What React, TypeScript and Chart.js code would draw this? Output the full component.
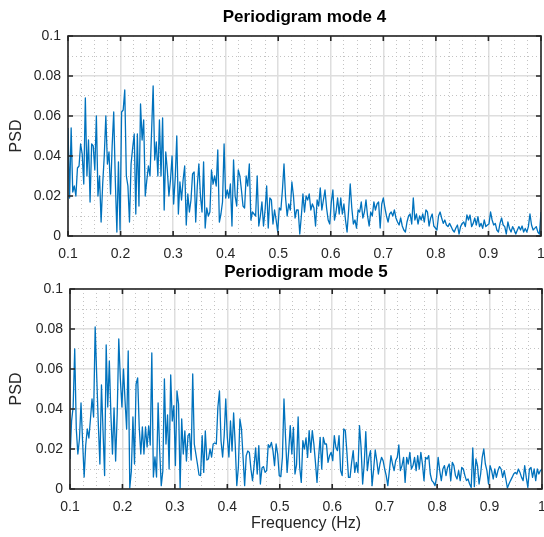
import { useEffect, useRef } from 'react';
import { Chart, registerables } from 'chart.js';

Chart.register(...registerables);

// ---------- data ----------
const FREQ_MIN = 0.1;
const FREQ_MAX = 1.0;

const X_TICK_VALUES = [0.1, 0.2, 0.3, 0.4, 0.5, 0.6, 0.7, 0.8, 0.9, 1.0];
const X_TICK_LABELS = ['0.1', '0.2', '0.3', '0.4', '0.5', '0.6', '0.7', '0.8', '0.9', '1'];
const Y_TICK_VALUES = [0, 0.02, 0.04, 0.06, 0.08, 0.1];
const Y_TICK_LABELS = ['0', '0.02', '0.04', '0.06', '0.08', '0.1'];

const TITLE_4 = 'Periodigram mode 4';
const TITLE_5 = 'Periodigram mode 5';
const Y_LABEL = 'PSD';
const X_LABEL = 'Frequency (Hz)';

const PSD_MODE4 = [
  0.054, 0.019, 0.054, 0.022, 0.025, 0.020, 0.034, 0.035, 0.046, 0.041,
  0.026, 0.069, 0.030, 0.048, 0.017, 0.046, 0.045, 0.033, 0.060, 0.020,
  0.030, 0.007, 0.026, 0.040, 0.060, 0.036, 0.042, 0.021, 0.045, 0.062,
  0.028, 0.002, 0.037, 0.003, 0.062, 0.063, 0.073, 0.030, 0.025, 0.007,
  0.036, 0.044, 0.051, 0.011, 0.051, 0.015, 0.066, 0.048, 0.058, 0.020,
  0.028, 0.035, 0.030, 0.052, 0.075, 0.038, 0.047, 0.030, 0.058, 0.030,
  0.059, 0.013, 0.042, 0.033, 0.020, 0.028, 0.040, 0.016, 0.029, 0.050,
  0.011, 0.027, 0.018, 0.028, 0.035, 0.0055, 0.021, 0.012, 0.018, 0.031,
  0.032, 0.007, 0.025, 0.036,
  0.020, 0.012, 0.037, 0.004, 0.014, 0.010, 0.012, 0.033, 0.026, 0.030,
  0.025, 0.043, 0.007, 0.011, 0.017, 0.046, 0.019, 0.023, 0.019, 0.026,
  0.005, 0.038, 0.020, 0.015, 0.033, 0.030, 0.023, 0.015, 0.014, 0.030,
  0.025, 0.036, 0.008, 0.012, 0.011, 0.010, 0.030, 0.005, 0.010, 0.017,
  0.005, 0.013, 0.025, 0.004, 0.019, 0.018, 0.006, 0.013, 0.008, 0.002,
  0.014, 0.013, 0.023, 0.036, 0.019, 0.010, 0.016, 0.013, 0.027, 0.020,
  0.009, 0.013, 0.013, 0.001, 0.010, 0.021, 0.012, 0.020, 0.018, 0.021,
  0.013, 0.016, 0.014, 0.005, 0.018, 0.015, 0.024, 0.013, 0.018, 0.023,
  0.014, 0.008, 0.006, 0.017, 0.023, 0.008, 0.012, 0.019, 0.011, 0.019,
  0.011, 0.016, 0.008, 0.002, 0.013, 0.026, 0.014, 0.006, 0.008, 0.004, 0.013,
  0.012, 0.017, 0.009, 0.012, 0.018, 0.010, 0.005, 0.012, 0.010, 0.017, 0.013,
  0.016, 0.017, 0.004, 0.016, 0.019, 0.014, 0.010, 0.007, 0.011, 0.012, 0.010,
  0.013, 0.009, 0.007, 0.0055, 0.009, 0.005, 0.003, 0.002, 0.007, 0.010, 0.011,
  0.006, 0.019, 0.008, 0.011, 0.006, 0.010, 0.008, 0.011, 0.007, 0.013,
  0.012, 0.005, 0.009, 0.011, 0.005, 0.004, 0.003, 0.010,
  0.012, 0.009, 0.0063, 0.008, 0.0055, 0.0047, 0.0063, 0.0047, 0.003, 0.002, 0.004,
  0.0055, 0.001, 0.0047, 0.0063, 0.007, 0.0047, 0.0105, 0.008, 0.0105, 0.0047,
  0.0063, 0.009, 0.0055, 0.0097, 0.0047, 0.0063, 0.0038, 0.008, 0.0047, 0.0055, 0.006,
  0.012, 0.008, 0.0055, 0.0063, 0.003, 0.002, 0.0063, 0.009, 0.0055, 0.0047,
  0.001, 0.007, 0.0038, 0.002, 0.0047, 0.003, 0.001, 0.003, 0.0047, 0.003, 0.005,
  0.002, 0.0038, 0.002, 0.0047, 0.011, 0.0055, 0.003, 0.0038, 0.0047, 0.002,
  0.001, 0.012,
];

const PSD_MODE5 = [
  0.015, 0.034, 0.041, 0.070, 0.030, 0.0175, 0.025, 0.043, 0.024, 0.006,
  0.022, 0.030, 0.0255, 0.035, 0.045, 0.036, 0.081, 0.056, 0.0325, 0.0125,
  0.052, 0.029, 0.0067, 0.072, 0.041, 0.064, 0.037, 0.0175, 0.0405, 0.014,
  0.0375, 0.075, 0.055, 0.041, 0.060, 0.044, 0.030, 0.069, 0.0005, 0.009,
  0.036, 0.0125, 0.0525, 0.0555, 0.031, 0.0175, 0.031, 0.0175, 0.031, 0.021,
  0.0315, 0.022, 0.068, 0.006, 0.016, 0.006, 0.043, 0.019, 0.0017, 0.009,
  0.055, 0.0225, 0.037, 0.010, 0.057, 0.034, 0.0417, 0.0117, 0.049, 0.0425,
  0.0005, 0.035, 0.0175, 0.029, 0.014, 0.0267, 0.0277, 0.0145, 0.0575, 0.0225,
  0.0175, 0.0125, 0.007, 0.0067, 0.0267, 0.0083, 0.029, 0.0145, 0.015, 0.020,
  0.016, 0.0225, 0.023, 0.0225, 0.041,
  0.049, 0.024, 0.016, 0.0267, 0.045, 0.0258, 0.016, 0.034, 0.019, 0.038,
  0.0225, 0.0017, 0.0108, 0.035, 0.030, 0.0158, 0.0017, 0.0167, 0.019, 0.0183,
  0.010, 0.0042, 0.0117, 0.0205, 0.0075, 0.0217, 0.0025, 0.0105, 0.0112, 0.0083,
  0.0092, 0.0222, 0.0208, 0.0233, 0.0192, 0.0117, 0.0225, 0.0175, 0.0067, 0.0062,
  0.0158, 0.045, 0.0258, 0.0083, 0.0192, 0.0317, 0.0175, 0.0308, 0.0075, 0.0122,
  0.036, 0.0108, 0.0033, 0.0242, 0.020, 0.0255, 0.0158, 0.0292, 0.0183, 0.0292,
  0.0225, 0.0133, 0.0033, 0.0158, 0.0258, 0.010, 0.0258, 0.0225, 0.0225, 0.0133,
  0.0167, 0.0183, 0.0142, 0.0267, 0.0208, 0.0192, 0.0267, 0.0092, 0.0067, 0.030,
  0.0292, 0.0183, 0.0058, 0.0058, 0.0133, 0.0192, 0.0083, 0.0133,
  0.0083, 0.0317, 0.0208, 0.0025, 0.0125, 0.0287, 0.0092, 0.0158, 0.0192, 0.0017,
  0.010, 0.0195, 0.0142, 0.0075, 0.0125, 0.0158, 0.0142, 0.010, 0.0067, 0.0017,
  0.0092, 0.0167, 0.0125, 0.0092, 0.0142, 0.0158, 0.022, 0.0092, 0.0117, 0.0158,
  0.0033, 0.0158, 0.0125, 0.0183, 0.010, 0.0117, 0.0158, 0.0092, 0.0167, 0.010,
  0.0183, 0.0125, 0.0042, 0.0158, 0.015, 0.0167, 0.0075, 0.0042, 0.0033, 0.0017,
  0.0058, 0.0158, 0.0092, 0.0042, 0.010, 0.0117, 0.0067, 0.0108, 0.0125, 0.0042,
  0.0133, 0.0117, 0.0067, 0.005, 0.0092, 0.0042, 0.0108, 0.010, 0.0067, 0.0042,
  0.005, 0.0025, 0.0008, 0.0205, 0.0012, 0.015, 0.0117, 0.0025, 0.0075, 0.0158,
  0.020, 0.0125, 0.0092, 0.0025, 0.0117, 0.0092, 0.005, 0.010, 0.0058, 0.0092,
  0.0112, 0.010, 0.0058, 0.0092, 0.005, 0.0005, 0.0025, 0.0042, 0.0058, 0.0075,
  0.0083, 0.0075, 0.010, 0.0083, 0.0058, 0.0042, 0.0117, 0.0058, 0.0008, 0.010,
  0.0108, 0.0058, 0.010, 0.0042, 0.010, 0.0075, 0.0092, 0.010,
];

// ---------- styling ----------
const FONT = 'Liberation Sans, Arial, Helvetica, sans-serif';
const AXIS_COLOR = '#262626';
const LINE_COLOR = '#0072BD';
const MAJOR_GRID = 'rgb(222,222,222)';
const MINOR_GRID = 'rgb(195,195,195)';
const CANVAS_W = 560;

// grid positions: majors plus minors (x: quarters, y: halves)
const X_GRID = X_TICK_VALUES.flatMap((v, i) => {
  if (i === X_TICK_VALUES.length - 1) return [v];
  const d = X_TICK_VALUES[i + 1] - v;
  return [v, v + d / 4, v + d / 2, v + (3 * d) / 4];
});
const Y_GRID = Y_TICK_VALUES.flatMap((v, i) => {
  if (i === Y_TICK_VALUES.length - 1) return [v];
  const d = Y_TICK_VALUES[i + 1] - v;
  return [v, v + d / 2];
});

function toPoints(values: number[]) {
  const n = values.length;
  return values.map((y, i) => ({ x: FREQ_MIN + ((FREQ_MAX - FREQ_MIN) * i) / (n - 1), y }));
}

const boxPlugin = {
  id: 'matlabBox',
  afterDatasetsDraw(chart: any) {
    const { ctx, chartArea } = chart;
    const { left, right, top, bottom } = chartArea;
    const xs = chart.scales.x;
    const ys = chart.scales.y;
    const TL = 5;
    ctx.save();
    ctx.strokeStyle = AXIS_COLOR;
    ctx.lineWidth = 1.6;
    ctx.beginPath();
    X_TICK_VALUES.forEach((v) => {
      const px = xs.getPixelForValue(v);
      ctx.moveTo(px, bottom);
      ctx.lineTo(px, bottom - TL);
      ctx.moveTo(px, top);
      ctx.lineTo(px, top + TL);
    });
    Y_TICK_VALUES.forEach((v) => {
      const py = ys.getPixelForValue(v);
      ctx.moveTo(left, py);
      ctx.lineTo(left + TL, py);
      ctx.moveTo(right, py);
      ctx.lineTo(right - TL, py);
    });
    ctx.stroke();
    ctx.strokeRect(left, top, right - left, bottom - top);
    ctx.restore();
  },
};

interface PanelOpts {
  title: string;
  values: number[];
  axisLeft: number;
  axisRight: number;
  titlePad: { top: number; bottom: number };
  xAxisH: number;
  showXTitle: boolean;
}

function makeConfig(o: PanelOpts): any {
  return {
    type: 'line',
    data: {
      datasets: [
        {
          data: toPoints(o.values),
          borderColor: LINE_COLOR,
          borderWidth: 1.3,
          borderJoinStyle: 'round',
          pointRadius: 0,
          tension: 0,
          fill: false,
        },
      ],
    },
    options: {
      responsive: false,
      animation: false,
      devicePixelRatio: 1,
      layout: { padding: { left: 0, right: CANVAS_W - o.axisRight, top: 0, bottom: 0 } },
      plugins: {
        legend: { display: false },
        tooltip: { enabled: false },
        title: {
          display: true,
          text: o.title,
          fullSize: false,
          color: '#000',
          font: { family: FONT, size: 17, weight: 'bold' },
          padding: o.titlePad,
        },
      },
      scales: {
        x: {
          type: 'linear',
          min: FREQ_MIN,
          max: FREQ_MAX,
          afterBuildTicks: (axis: any) => {
            axis.ticks = X_GRID.map((v) => ({ value: v }));
          },
          afterFit: (axis: any) => {
            axis.height = o.xAxisH;
          },
          ticks: {
            autoSkip: false,
            maxRotation: 0,
            minRotation: 0,
            padding: 10,
            color: AXIS_COLOR,
            font: { family: FONT, size: 14 },
            callback: (_v: any, i: number) => (i % 4 === 0 ? X_TICK_LABELS[i / 4] : ''),
          },
          grid: {
            drawTicks: false,
            color: (c: any) => (c.index % 4 === 0 ? MAJOR_GRID : MINOR_GRID),
            lineWidth: (c: any) => (c.index % 4 === 0 ? 1.5 : 1),
          },
          border: {
            display: false,
            dash: (c: any) => (c.tick && c.index % 4 !== 0 ? [1, 3] : []),
          },
          title: {
            display: o.showXTitle,
            text: X_LABEL,
            color: AXIS_COLOR,
            font: { family: FONT, size: 16 },
            padding: { top: 0, bottom: 4 },
          },
        },
        y: {
          type: 'linear',
          min: 0,
          max: 0.1,
          afterBuildTicks: (axis: any) => {
            axis.ticks = Y_GRID.map((v) => ({ value: v }));
          },
          afterFit: (axis: any) => {
            axis.width = o.axisLeft;
          },
          ticks: {
            autoSkip: false,
            padding: 7,
            color: AXIS_COLOR,
            font: { family: FONT, size: 14 },
            callback: (_v: any, i: number) => (i % 2 === 0 ? Y_TICK_LABELS[i / 2] : ''),
          },
          grid: {
            drawTicks: false,
            color: (c: any) => (c.index % 2 === 0 ? MAJOR_GRID : MINOR_GRID),
            lineWidth: (c: any) => (c.index % 2 === 0 ? 1.5 : 1),
          },
          border: {
            display: false,
            dash: (c: any) => (c.tick && c.index % 2 !== 0 ? [1, 3] : []),
          },
          title: {
            display: true,
            text: Y_LABEL,
            color: AXIS_COLOR,
            font: { family: FONT, size: 16 },
            padding: { top: 7, bottom: 0 },
          },
        },
      },
    },
    plugins: [boxPlugin],
  };
}

export default function App() {
  const topRef = useRef<HTMLCanvasElement>(null);
  const botRef = useRef<HTMLCanvasElement>(null);

  useEffect(() => {
    const c1 = new Chart(
      topRef.current as HTMLCanvasElement,
      makeConfig({
        title: TITLE_4,
        values: PSD_MODE4,
        axisLeft: 68,
        axisRight: 541,
        titlePad: { top: 7, bottom: 8.6 },
        xAxisH: 26,
        showXTitle: false,
      })
    );
    const c2 = new Chart(
      botRef.current as HTMLCanvasElement,
      makeConfig({
        title: TITLE_5,
        values: PSD_MODE5,
        axisLeft: 70,
        axisRight: 542,
        titlePad: { top: 0, bottom: 6.6 },
        xAxisH: 48,
        showXTitle: true,
      })
    );
    return () => {
      c1.destroy();
      c2.destroy();
    };
  }, []);

  return (
    <div
      style={{
        position: 'fixed',
        left: 0,
        top: 0,
        width: 544,
        height: 537,
        overflow: 'hidden',
        background: '#fff',
      }}
    >
      <canvas ref={topRef} width={CANVAS_W} height={262} style={{ position: 'absolute', left: 0, top: 0 }} />
      <canvas ref={botRef} width={CANVAS_W} height={275} style={{ position: 'absolute', left: 0, top: 262 }} />
    </div>
  );
}
